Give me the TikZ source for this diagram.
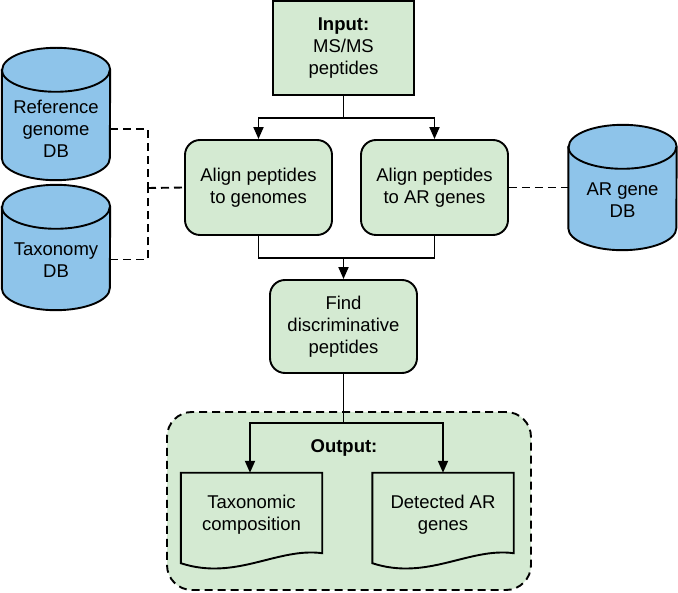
\documentclass[tikz,border=0pt]{standalone}
\usepackage{fontspec}
\setmainfont{Liberation Sans}
\usepackage{tikz}
\usetikzlibrary{arrows.meta,calc}

\definecolor{stepgreen}{HTML}{D4EAD2}
\definecolor{dbblue}{HTML}{8EC4EA}

\tikzset{
    line/.style={line width=1.9pt},
    arr/.style={line, -{Triangle[length=12pt,width=10pt]}},
    link/.style={line, dash pattern=on 8pt off 5pt},
    stepbox/.style={draw, line, fill=stepgreen, rounded corners=15pt,
        minimum width=147pt, minimum height=95pt, align=center},
    dbnode/.style={minimum width=108pt, minimum height=125pt, inner sep=0pt},
    dbtext/.style={align=center},
    docnode/.style={minimum width=141pt, minimum height=90pt, align=center}
}

\newcommand{\dbdraw}[1]{%
    \draw[line, fill=dbblue] ([yshift=-22pt]#1.north west)
        -- ([yshift=22pt]#1.south west)
        arc[start angle=180, end angle=360, x radius=54pt, y radius=22pt]
        -- ([yshift=-22pt]#1.north east)
        arc[start angle=0, end angle=180, x radius=54pt, y radius=22pt] -- cycle;
    \draw[line] ([yshift=-22pt]#1.north west)
        arc[start angle=180, end angle=360, x radius=54pt, y radius=22pt];
}

\begin{document}
\begin{tikzpicture}[x=1pt,y=-1pt,font=\fontsize{18.5}{22}\selectfont]
    \useasboundingbox (0,0) rectangle (678,593);

    \node[draw, line, dash pattern=on 8pt off 5pt, fill=stepgreen,
          rounded corners=25pt, minimum width=364pt, minimum height=178pt]
         (outbox) at (349,501) {};

    \node[draw, line, fill=stepgreen, minimum width=141pt, minimum height=94pt,
          align=center] (input) at (343.5,48) {\textbf{Input:}\\MS/MS\\peptides};
    \node[stepbox] (aligngen) at (258.5,187.5) {Align peptides\\to genomes};
    \node[stepbox] (alignar) at (434.5,187.5) {Align peptides\\to AR genes};
    \node[stepbox, minimum height=93pt] (find) at (343.5,326.5) {Find\\discriminative\\peptides};

    % databases
    \node[dbnode, minimum height=132pt] (refdb) at (56,114) {};
    \node[dbnode] (taxdb) at (56,247.5) {};
    \node[dbnode] (ardb) at (622.5,187.5) {};
    \dbdraw{refdb}
    \dbdraw{taxdb}
    \dbdraw{ardb}
    \node[dbtext] at ([yshift=-15pt]refdb.center) {Reference\\genome\\DB};
    \node[dbtext] at ([yshift=-13pt]taxdb.center) {Taxonomy\\DB};
    \node[dbtext] at ([yshift=-13pt]ardb.center) {AR gene\\DB};

    \node[font=\fontsize{18.5}{22}\selectfont\bfseries] (outlbl) at (344,448) {Output:};
    \node[docnode] (taxout) at (251.5,518) {};
    \node[docnode] (arout) at (443,518) {};

    % document outlines
    \draw[line, fill=stepgreen] (taxout.north west) -- (taxout.north east)
        -- ([yshift=10pt]taxout.south east)
        .. controls ([xshift=-45pt,yshift=16pt]taxout.south east)
        and ([xshift=55pt,yshift=-18pt]taxout.south west) .. (taxout.south west) -- cycle;
    \draw[line, fill=stepgreen] (arout.north west) -- (arout.north east)
        -- ([yshift=10pt]arout.south east)
        .. controls ([xshift=-45pt,yshift=16pt]arout.south east)
        and ([xshift=55pt,yshift=-18pt]arout.south west) .. (arout.south west) -- cycle;
    \node[docnode] at ([yshift=3pt]taxout.center) {Taxonomic\\composition};
    \node[docnode] at ([yshift=3pt]arout.center) {Detected AR\\genes};

    %edges
    \coordinate (split) at (343.5,118);
    \draw[line] (input.south) -- (split);
    \draw[arr] (split) -| (aligngen.north);
    \draw[arr] (split) -| (alignar.north);

    \coordinate (join) at (343.5,258);
    \draw[line] (aligngen.south) |- (join);
    \draw[line] (alignar.south) |- (join);
    \draw[arr] (join) -- (find.north);

    \coordinate (fork) at (343.5,423);
    \draw[line] (find.south) -- (fork);
    \draw[arr] (fork) -| (taxout.north -| 250,0);
    \draw[arr] (fork) -| (arout.north);

    % database links
    \coordinate (dbjoin) at (148,188);
    \draw[link] ([yshift=-15pt]refdb.east) -| (dbjoin);
    \draw[link] ([yshift=-12pt]taxdb.east) -| (dbjoin);
    \draw[link] (dbjoin) -- (aligngen.west);
    \draw[link] (alignar.east) -- (ardb.west);
\end{tikzpicture}
\end{document}
